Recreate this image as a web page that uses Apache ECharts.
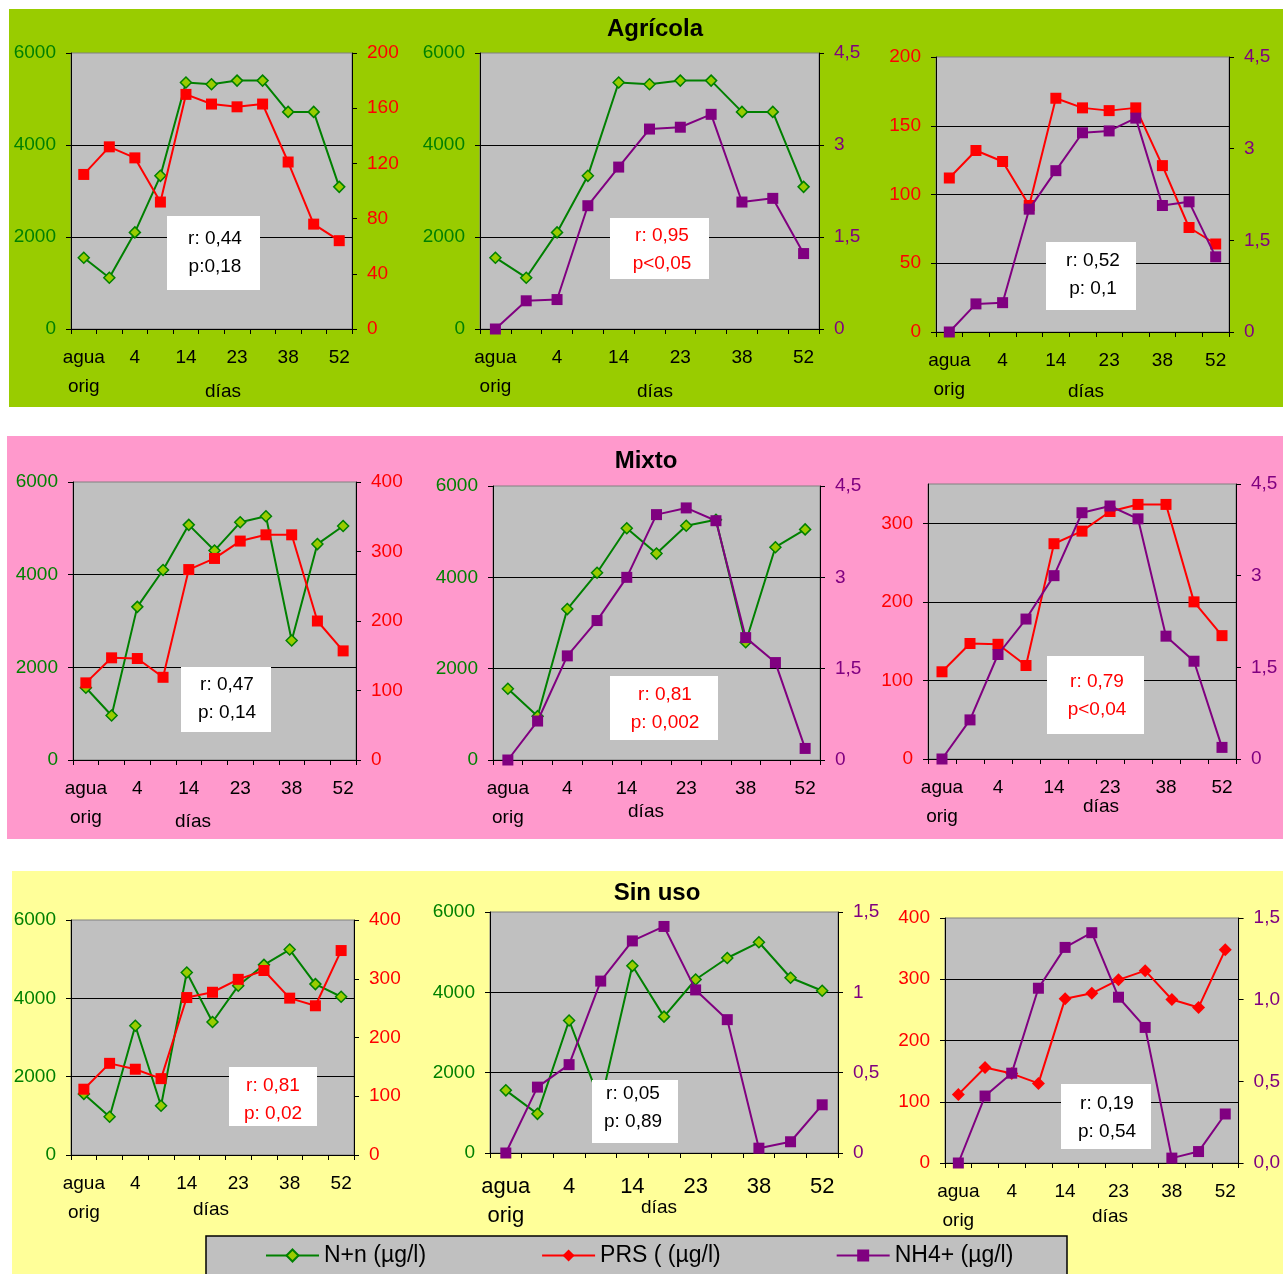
<!DOCTYPE html>
<html><head><meta charset="utf-8">
<script src="https://cdn.jsdelivr.net/npm/echarts@6/dist/echarts.min.js"></script>
<style>html,body{margin:0;padding:0;background:#fff}#c{width:1283px;height:1274px}</style>
</head><body><div id="c"></div>
<script>
// ---------- data ----------
const dayLabels = ['agua\norig', '', '4', '', '14', '', '23', '', '38', '', '52'];

const nAgricola   = [1550, 1115, 2100, 3330, 5360, 5320, 5400, 5400, 4720, 4720, 3090];
const prsAgricola = [112, 132, 124, 92, 170, 163, 161, 163, 121, 76, 64];
const nh4Agricola = [0.0, 0.46, 0.48, 2.01, 2.64, 3.26, 3.29, 3.5, 2.07, 2.13, 1.23];

const nMixto   = [1560, 960, 3305, 4100, 5075, 4520, 5130, 5260, 2580, 4660, 5050];
const prsMixto = [111, 147, 146, 119, 274, 290, 315, 324, 324, 200, 157];
const nh4Mixto = [0.0, 0.64, 1.71, 2.29, 3.0, 4.03, 4.14, 3.93, 2.01, 1.6, 0.19];

const nSinUso   = [1560, 975, 3300, 1256, 4660, 3395, 4320, 4855, 5246, 4363, 4040];
const prsSinUso = [112, 156, 146, 130, 268, 277, 299, 314, 267, 254, 348];
const nh4SinUso = [0.0, 0.41, 0.55, 1.07, 1.32, 1.41, 1.015, 0.83, 0.03, 0.07, 0.30];

const groupTitles = ['Agrícola', 'Mixto', 'Sin uso'];
const seriesNames = { N: 'N+n (µg/l)', PRS: 'PRS ( (µg/l)', NH4: 'NH4+ (µg/l)' };
const statTexts = [
  ['r: 0,44', 'p:0,18'], ['r: 0,95', 'p<0,05'], ['r: 0,52', 'p: 0,1'],
  ['r: 0,47', 'p: 0,14'], ['r: 0,81', 'p: 0,002'], ['r: 0,79', 'p<0,04'],
  ['r: 0,81', 'p: 0,02'], ['r: 0,05', 'p: 0,89'], ['r: 0,19', 'p: 0,54']
];
const xAxisName = 'días';

// ---------- styles / layout ----------
const FONT = '"Liberation Sans", Arial, sans-serif';
const C = { N: '#008000', PRS: '#FF0000', NH4: '#800080' };
const comma = v => String(v).replace('.', ',');
const comma1 = v => v.toFixed(1).replace('.', ',');
const AX = {
  N6000:  { min: 0, max: 6000, interval: 2000, fmt: v => String(v) },
  P200r:  { min: 0, max: 200, interval: 40, fmt: v => String(v) },
  P200l:  { min: 0, max: 200, interval: 50, fmt: v => String(v) },
  P400:   { min: 0, max: 400, interval: 100, fmt: v => String(v) },
  P350:   { min: 0, max: 350, interval: 100, fmt: v => String(v), hideMax: true },
  H45:    { min: 0, max: 4.5, interval: 1.5, fmt: comma },
  H15:    { min: 0, max: 1.5, interval: 0.5, fmt: comma },
  H15b:   { min: 0, max: 1.5, interval: 0.5, fmt: comma1 }
};
const panels = [
  { g: [71, 53, 281, 276],  l: 'N',   r: 'PRS', ld: nAgricola,   rd: prsAgricola, la: AX.N6000, ra: AX.P200r, sc: '#000', box: [167, 216, 93, 74],  tx: [215, 252.5],  dias: [223, 392] },
  { g: [480, 53, 339, 276], l: 'N',   r: 'NH4', ld: nAgricola,   rd: nh4Agricola, la: AX.N6000, ra: AX.H45,   sc: '#FF0000', box: [610, 218, 99, 61], tx: [662, 249.5], dias: [655, 392] },
  { g: [936, 57, 293, 275], l: 'PRS', r: 'NH4', ld: prsAgricola, rd: nh4Agricola, la: AX.P200l, ra: AX.H45,   sc: '#000', box: [1046, 242, 90, 68], tx: [1093, 274.7], dias: [1086, 392] },
  { g: [73, 482, 283, 278], l: 'N',   r: 'PRS', ld: nMixto,      rd: prsMixto,    la: AX.N6000, ra: AX.P400,  sc: '#000', box: [181, 667, 90, 65],  tx: [227, 699],    dias: [193, 822] },
  { g: [493, 486, 327, 274],l: 'N',   r: 'NH4', ld: nMixto,      rd: nh4Mixto,    la: AX.N6000, ra: AX.H45,   sc: '#FF0000', box: [610, 676, 108, 64], tx: [665, 708.5], dias: [646, 812] },
  { g: [928, 484, 308, 275],l: 'PRS', r: 'NH4', ld: prsMixto,    rd: nh4Mixto,    la: AX.P350,  ra: AX.H45,   sc: '#FF0000', box: [1047, 656, 97, 78], tx: [1097, 695.5], dias: [1101, 807] },
  { g: [71, 920, 283, 235], l: 'N',   r: 'PRS', ld: nSinUso,     rd: prsSinUso,   la: AX.N6000, ra: AX.P400,  sc: '#FF0000', box: [229, 1067, 88, 59], tx: [273, 1099.5], dias: [211, 1210] },
  { g: [490, 912, 348, 241],l: 'N',   r: 'NH4', ld: nSinUso,     rd: nh4SinUso,   la: AX.N6000, ra: AX.H15,   sc: '#000', box: [592, 1080, 86, 63], tx: [633, 1108],  dias: [659, 1208], xfs: 22, xm: 19 },
  { g: [945, 918, 297, 245],l: 'PRS', r: 'NH4', ld: prsSinUso,   rd: nh4SinUso,   la: AX.P400,  ra: AX.H15b,  sc: '#000', box: [1061, 1084, 90, 65], tx: [1107, 1118], dias: [1110, 1217], prsDiamond: true }
];

function symbolFor(key, p) {
  if (key === 'N') return { symbol: 'diamond', symbolSize: 11, itemStyle: { color: '#99CC00', borderColor: '#008000', borderWidth: 1.5 } };
  if (key === 'PRS') return p.prsDiamond
    ? { symbol: 'diamond', symbolSize: 13, itemStyle: { color: '#FF0000' } }
    : { symbol: 'rect', symbolSize: 11, itemStyle: { color: '#FF0000' } };
  return { symbol: 'rect', symbolSize: 11, itemStyle: { color: '#800080' } };
}

const grids = [], xAxes = [], yAxes = [], series = [];
panels.forEach((p, i) => {
  grids.push({ left: p.g[0], top: p.g[1], width: p.g[2], height: p.g[3], show: true,
    backgroundColor: '#C0C0C0', borderColor: '#808080', borderWidth: 1, containLabel: false });
  xAxes.push({ type: 'category', gridIndex: i, data: dayLabels, boundaryGap: true,
    axisLine: { lineStyle: { color: '#000', width: 1 } },
    axisTick: { show: true, interval: 0, length: 5, lineStyle: { color: '#000' } },
    axisLabel: { interval: 0, color: '#000', fontFamily: FONT, fontSize: p.xfs || 19, lineHeight: 29, margin: p.xm || 14 },
    splitLine: { show: false } });
  const mkY = (ax, key, pos, split) => ({
    type: 'value', gridIndex: i, position: pos, min: ax.min, max: ax.max, interval: ax.interval,
    axisLine: { show: true, onZero: false, lineStyle: { color: '#000', width: 1 } },
    axisTick: { show: true, length: 5, lineStyle: { color: '#000' } },
    axisLabel: { color: C[key], fontFamily: FONT, fontSize: 19, margin: 15, formatter: ax.fmt, showMaxLabel: !ax.hideMax },
    splitLine: { show: split, showMinLine: false, showMaxLine: false, lineStyle: { color: '#000', width: 1 } }
  });
  yAxes.push(mkY(p.la, p.l, 'left', true));
  yAxes.push(mkY(p.ra, p.r, 'right', false));
});

// series (last panel first so legend picks its red diamond for PRS)
const order = [8, 0, 1, 2, 3, 4, 5, 6, 7];
order.forEach(i => {
  const p = panels[i];
  [[p.l, p.ld, 2 * i, 2], [p.r, p.rd, 2 * i + 1, 3]].forEach(([key, d, yi, z]) => {
    series.push(Object.assign({
      type: 'line', name: seriesNames[key], xAxisIndex: i, yAxisIndex: yi, data: d, z: z,
      lineStyle: { color: C[key], width: 2 }, showSymbol: true, animation: false
    }, symbolFor(key, p)));
  });
});

const graphic = [
  { type: 'rect', z: -10, shape: { x: 9, y: 9, width: 1274, height: 398 }, style: { fill: '#99CC00' } },
  { type: 'rect', z: -10, shape: { x: 7, y: 436, width: 1276, height: 403 }, style: { fill: '#FF99CC' } },
  { type: 'rect', z: -10, shape: { x: 12, y: 871, width: 1271, height: 403 }, style: { fill: '#FFFF99' } },
  { type: 'rect', z: -5, shape: { x: 206, y: 1236, width: 861, height: 42 }, style: { fill: '#C0C0C0', stroke: '#000', lineWidth: 1.5 } },
  { type: 'text', z: 10, style: { text: groupTitles[0], x: 655, y: 29, align: 'center', verticalAlign: 'middle', font: 'bold 24px ' + FONT, fill: '#000' } },
  { type: 'text', z: 10, style: { text: groupTitles[1], x: 646, y: 461, align: 'center', verticalAlign: 'middle', font: 'bold 24px ' + FONT, fill: '#000' } },
  { type: 'text', z: 10, style: { text: groupTitles[2], x: 657, y: 893, align: 'center', verticalAlign: 'middle', font: 'bold 24px ' + FONT, fill: '#000' } }
];
panels.forEach((p, i) => {
  graphic.push({ type: 'rect', z: 100, shape: { x: p.box[0], y: p.box[1], width: p.box[2], height: p.box[3] }, style: { fill: '#fff' } });
  graphic.push({ type: 'text', z: 101, style: { text: statTexts[i].join('\n'), x: p.tx[0], y: p.tx[1], align: 'center', verticalAlign: 'middle', lineHeight: 28, font: '19px ' + FONT, fill: p.sc } });
  graphic.push({ type: 'text', z: 10, style: { text: xAxisName, x: p.dias[0], y: p.dias[1], align: 'center', verticalAlign: 'middle', font: '19px ' + FONT, fill: '#000' } });
});

const chart = echarts.init(document.getElementById('c'), null, { renderer: 'canvas' });
chart.setOption({
  animation: false,
  backgroundColor: '#fff',
  grid: grids, xAxis: xAxes, yAxis: yAxes, series: series, graphic: graphic,
  legend: {
    data: [seriesNames.N, seriesNames.PRS, seriesNames.NH4],
    left: 265, top: 1244, padding: 0, itemWidth: 53, itemHeight: 15, itemGap: 115,
    textStyle: { color: '#000', fontSize: 23, fontFamily: FONT },
    selectedMode: false
  }
});
</script></body></html>
